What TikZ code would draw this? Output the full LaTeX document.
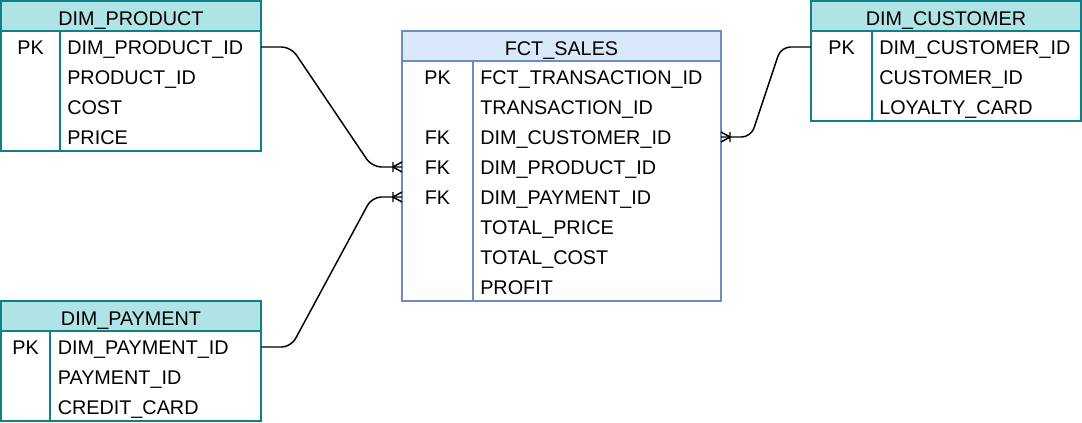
\documentclass[tikz,border=0pt]{standalone}
\usepackage{fontspec}
\setmainfont{Liberation Sans}
\definecolor{tealF}{HTML}{B0E3E6}
\definecolor{tealL}{HTML}{0E8088}
\definecolor{blueF}{HTML}{DAE8FC}
\definecolor{blueL}{HTML}{6C8EBF}
\begin{document}
\begin{tikzpicture}[x=0.75pt,y=-0.75pt,
  font=\fontsize{14.85pt}{18pt}\selectfont,
  box/.style={draw, line width=1.1pt, outer sep=0pt, inner sep=0pt, anchor=north west},
  tealhead/.style={box, draw=tealL, fill=tealF, minimum height=22.5pt, text height=15pt, text depth=0.6pt},
  tealbody/.style={box, draw=tealL, fill=white},
  bluehead/.style={box, draw=blueL, fill=blueF, minimum height=22.5pt, text height=15pt, text depth=0.6pt},
  bluebody/.style={box, draw=blueL, fill=white},
  tealdiv/.style={draw=tealL, line width=1.1pt},
  bluediv/.style={draw=blueL, line width=1.1pt},
  key/.style={inner sep=0pt, text height=10.6pt, text depth=0pt, anchor=center},
  val/.style={inner sep=0pt, text height=10.6pt, text depth=0pt, anchor=west},
  conn/.style={draw=black, line width=1.1pt, rounded corners=7pt},
  crowL/.pic={\draw[line width=1.1pt] (-9,-5)--(-9,5) (0,-5)--(-9,0)--(0,5);},
  crowR/.pic={\draw[line width=1.1pt] (9,-5)--(9,5) (0,-5)--(9,0)--(0,5);}
]
\path[use as bounding box] (0,0) rectangle (1082,422);

% DIM_PRODUCT
\node[tealbody, minimum width=195pt, minimum height=90pt] (prodbody) at (1,31) {};
\node[tealhead, minimum width=195pt] (prodhead) at (1,1) {DIM\_PRODUCT};
\draw[tealdiv] (60,31) -- (60,151);
\node[key] (prodk1) at (30.5,47) {PK};
\node[val] (prodv1) at (67,47) {DIM\_PRODUCT\_ID};
\node[val] (prodv2) at (67,77) {PRODUCT\_ID};
\node[val] (prodv3) at (67,107) {COST};
\node[val] (prodv4) at (67,137) {PRICE};

% FCT_SALES
\node[bluebody, minimum width=239.25pt, minimum height=180pt] (salesbody) at (402,61) {};
\node[bluehead, minimum width=239.25pt] (saleshead) at (402,31) {FCT\_SALES};
\draw[bluediv] (473,61) -- (473,301);
\node[key] (salesk1) at (437.5,77) {PK};
\node[key] (salesk3) at (437.5,137) {FK};
\node[key] (salesk4) at (437.5,167) {FK};
\node[key] (salesk5) at (437.5,197) {FK};
\node[val] (salesv1) at (480,77) {FCT\_TRANSACTION\_ID};
\node[val] (salesv2) at (480,107) {TRANSACTION\_ID};
\node[val] (salesv3) at (480,137) {DIM\_CUSTOMER\_ID};
\node[val] (salesv4) at (480,167) {DIM\_PRODUCT\_ID};
\node[val] (salesv5) at (480,197) {DIM\_PAYMENT\_ID};
\node[val] (salesv6) at (480,227) {TOTAL\_PRICE};
\node[val] (salesv7) at (480,257) {TOTAL\_COST};
\node[val] (salesv8) at (480,287) {PROFIT};

% DIM_CUSTOMER
\node[tealbody, minimum width=202.5pt, minimum height=67.5pt] (custbody) at (811,31) {};
\node[tealhead, minimum width=202.5pt] (custhead) at (811,1) {DIM\_CUSTOMER};
\draw[tealdiv] (872,31) -- (872,121);
\node[key] (custk1) at (841.5,47) {PK};
\node[val] (custv1) at (879,47) {DIM\_CUSTOMER\_ID};
\node[val] (custv2) at (879,77) {CUSTOMER\_ID};
\node[val] (custv3) at (879,107) {LOYALTY\_CARD};

% DIM_PAYMENT
\node[tealbody, minimum width=195pt, minimum height=67.5pt] (paybody) at (1,331) {};
\node[tealhead, minimum width=195pt] (payhead) at (1,301) {DIM\_PAYMENT};
\draw[tealdiv] (50,331) -- (50,421);
\node[key] (payk1) at (25.5,347) {PK};
\node[val] (payv1) at (57.5,347) {DIM\_PAYMENT\_ID};
\node[val] (payv2) at (57.5,377) {PAYMENT\_ID};
\node[val] (payv3) at (57.5,407) {CREDIT\_CARD};

% connectors
\draw[conn] (prodbody.east |- prodk1) -- ++(30,0)
  -- ([xshift=-22.5pt]salesbody.west |- salesk4) -- (salesbody.west |- salesk4);
\draw[conn] (paybody.east |- payk1) -- ++(30,0)
  -- ([xshift=-22.5pt]salesbody.west |- salesk5) -- (salesbody.west |- salesk5);
\draw[conn] (custbody.west |- custk1) -- ++(-30,0)
  -- ([xshift=22.5pt]salesbody.east |- salesk3) -- (salesbody.east |- salesk3);
\path (salesbody.west |- salesk4) pic {crowL};
\path (salesbody.west |- salesk5) pic {crowL};
\path (salesbody.east |- salesk3) pic {crowR};
\end{tikzpicture}
\end{document}
